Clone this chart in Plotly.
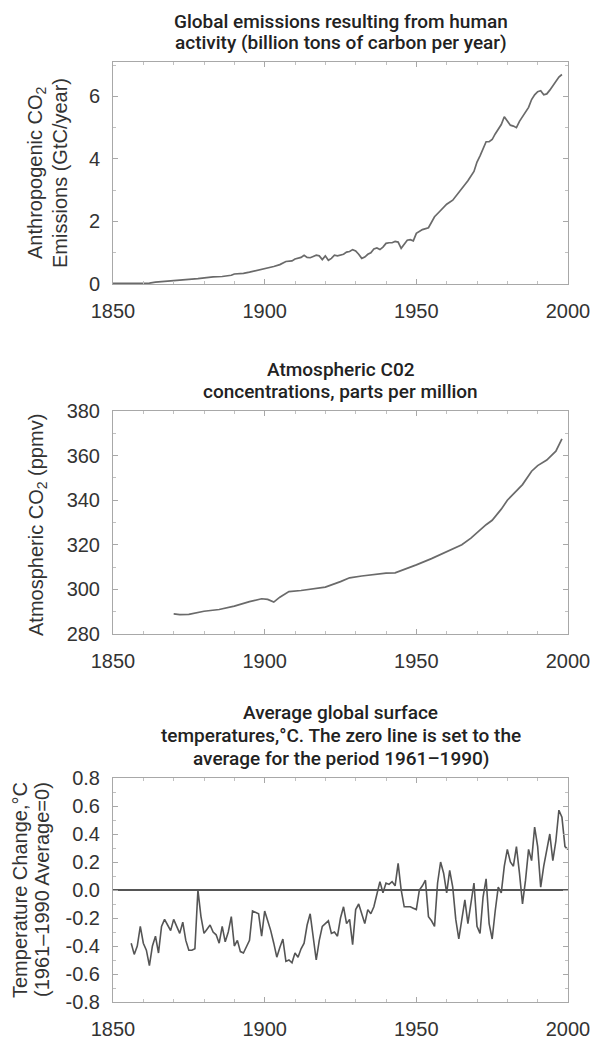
import plotly.graph_objects as go

W, H = 595, 1040

# ---------------- data ----------------
emis_years = [1850, 1855, 1860, 1862, 1864, 1866, 1868, 1870, 1872, 1875, 1878, 1880,
              1883, 1886, 1889, 1890, 1893, 1895, 1898, 1900, 1903, 1905, 1907, 1909,
              1910, 1912, 1913, 1914, 1915, 1916, 1917, 1918, 1919, 1920, 1921, 1922,
              1923, 1924, 1925, 1926, 1927, 1928, 1929, 1930, 1931, 1932, 1933, 1934,
              1935, 1936, 1937, 1938, 1939, 1940, 1941, 1942, 1943, 1944, 1945, 1946,
              1947, 1948, 1949, 1950, 1952, 1954, 1955, 1956, 1958, 1960, 1962, 1963,
              1965, 1967, 1969, 1970, 1971, 1972, 1973, 1974, 1975, 1976, 1977, 1978,
              1979, 1980, 1981, 1982, 1983, 1984, 1985, 1986, 1987, 1988, 1989, 1990,
              1991, 1992, 1993, 1994, 1995, 1996, 1997, 1998]
emis_vals = [0.02, 0.02, 0.02, 0.03, 0.06, 0.08, 0.09, 0.10, 0.14, 0.15, 0.17, 0.20,
             0.23, 0.24, 0.28, 0.32, 0.34, 0.38, 0.44, 0.50, 0.56, 0.62, 0.72, 0.74,
             0.80, 0.85, 0.92, 0.85, 0.84, 0.88, 0.92, 0.90, 0.78, 0.90, 0.76, 0.82,
             0.92, 0.90, 0.93, 0.95, 1.02, 1.04, 1.10, 1.06, 0.95, 0.82, 0.86, 0.95,
             1.00, 1.12, 1.15, 1.10, 1.18, 1.30, 1.32, 1.32, 1.36, 1.34, 1.14, 1.28,
             1.40, 1.42, 1.38, 1.62, 1.74, 1.80, 2.00, 2.15, 2.35, 2.55, 2.68, 2.80,
             3.05, 3.30, 3.60, 3.90, 4.10, 4.30, 4.55, 4.55, 4.62, 4.80, 4.95, 5.10,
             5.35, 5.22, 5.08, 5.05, 5.00, 5.20, 5.35, 5.50, 5.65, 5.90, 6.05, 6.15,
             6.18, 6.05, 6.08, 6.20, 6.35, 6.50, 6.62, 6.70]

co2_years = [1870, 1872, 1875, 1880, 1885, 1890, 1895, 1899, 1901, 1903, 1905, 1908,
             1912, 1916, 1920, 1925, 1928, 1932, 1937, 1940, 1943, 1946, 1950, 1955,
             1960, 1963, 1965, 1968, 1970, 1973, 1975, 1978, 1980, 1983, 1985, 1988,
             1990, 1993, 1996, 1998]
co2_vals = [289.0, 288.7, 288.8, 290.2, 291.0, 292.5, 294.5, 295.8, 295.5, 294.3, 296.5, 299.0,
            299.5, 300.3, 301.0, 303.5, 305.2, 306.0, 307.0, 307.3, 307.4, 308.8, 311.0, 313.8,
            317.0, 319.0, 320.0, 323.0, 325.5, 329.0, 331.0, 336.0, 340.0, 344.0, 347.0, 353.0,
            355.5, 358.0, 362.0, 367.5]

temp_years = list(range(1856, 2001))
temp_vals = [
    -0.38, -0.46, -0.40, -0.26, -0.38, -0.43, -0.54, -0.40, -0.33, -0.45,   # 1856-1865
    -0.26, -0.21, -0.25, -0.29, -0.21, -0.26, -0.31, -0.23, -0.36, -0.43,   # 1866-1875
    -0.43, -0.42, 0.00, -0.19, -0.31, -0.28, -0.25, -0.30, -0.32, -0.38,    # 1876-1885
    -0.26, -0.37, -0.30, -0.19, -0.40, -0.36, -0.44, -0.45, -0.40, -0.36,   # 1886-1895
    -0.15, -0.16, -0.17, -0.33, -0.15, -0.22, -0.29, -0.38, -0.48, -0.41,   # 1896-1905
    -0.35, -0.51, -0.50, -0.52, -0.45, -0.48, -0.42, -0.38, -0.25, -0.17,   # 1906-1915
    -0.33, -0.50, -0.36, -0.26, -0.24, -0.22, -0.31, -0.30, -0.33, -0.20,   # 1916-1925
    -0.12, -0.24, -0.21, -0.39, -0.14, -0.10, -0.17, -0.24, -0.14, -0.17,   # 1926-1935
    -0.12, -0.02, 0.06, -0.02, 0.05, 0.04, 0.06, 0.03, 0.19, 0.00,          # 1936-1945
    -0.12, -0.12, -0.12, -0.13, -0.14, 0.00, 0.03, 0.07, -0.19, -0.22,      # 1946-1955
    -0.26, 0.05, 0.20, 0.12, -0.02, 0.14, 0.02, -0.21, -0.35, -0.21,        # 1956-1965
    -0.07, -0.24, -0.10, 0.05, -0.26, -0.31, -0.05, 0.08, -0.24, -0.35,     # 1966-1975
    -0.15, 0.02, -0.02, 0.17, 0.29, 0.20, 0.17, 0.31, 0.12, -0.10,          # 1976-1985
    0.07, 0.29, 0.21, 0.45, 0.31, 0.02, 0.17, 0.29, 0.40, 0.21,             # 1986-1995
    0.35, 0.57, 0.52, 0.31, 0.29,                                           # 1996-2000
]

x_ticks = [1850, 1900, 1950, 2000]
y1_ticks = [0, 2, 4, 6]
y2_ticks = [280, 300, 320, 340, 360, 380]
y3_ticks = [-0.8, -0.6, -0.4, -0.2, 0.0, 0.2, 0.4, 0.6, 0.8]
y3_labels = ["-0.8", "-0.6", "-0.4", "-0.2", "0.0", "0.2", "0.4", "0.6", "0.8"]

# ---------------- layout helpers ----------------
X0, X1 = 113, 568
PANELS = [(62, 284), (411, 634), (778, 1002)]
TICKFONT = dict(family="Liberation Sans, Arial, sans-serif", size=20, color="#333333")
TITLEFONT = dict(family="Roboto, sans-serif", size=19, color="#222222", weight=500)
FRAME = "#a8a8a8"


def ydom(top, bot):
    return [1 - bot / H, 1 - top / H]


fig = go.Figure()
line_style = dict(color="#6a6a6a", width=1.7)
fig.add_trace(go.Scatter(x=emis_years, y=emis_vals, mode="lines", line=line_style,
                         xaxis="x", yaxis="y", showlegend=False))
fig.add_trace(go.Scatter(x=co2_years, y=co2_vals, mode="lines", line=line_style,
                         xaxis="x2", yaxis="y2", showlegend=False))
fig.add_trace(go.Scatter(x=temp_years, y=temp_vals, mode="lines",
                         line=dict(color="#555555", width=1.6),
                         xaxis="x3", yaxis="y3", showlegend=False))

common_x = dict(domain=[X0 / W, X1 / W], range=[1850, 2000], tickvals=x_ticks,
                ticks="inside", ticklen=5, tickcolor=FRAME, showline=True,
                linecolor=FRAME, linewidth=1, mirror="ticks", showgrid=False,
                zeroline=False, tickfont=TICKFONT, ticklabelstandoff=9, automargin=False,
                minor=dict(dtick=10, ticks="inside", ticklen=3, tickcolor="#c0c0c0"))
common_y = dict(ticks="inside", ticklen=5, tickcolor=FRAME, showline=True,
                linecolor=FRAME, linewidth=1, mirror="ticks", showgrid=False,
                tickfont=TICKFONT, ticklabelstandoff=8, automargin=False)

layout = dict(
    width=W, height=H, margin=dict(l=0, r=0, t=0, b=0, pad=0), autosize=False,
    paper_bgcolor="white", plot_bgcolor="white",
    xaxis=dict(anchor="y", **common_x),
    xaxis2=dict(anchor="y2", **common_x),
    xaxis3=dict(anchor="y3", **common_x),
    yaxis=dict(anchor="x", domain=ydom(*PANELS[0]), range=[0, 7.1], tickvals=y1_ticks,
               zeroline=False, minor=dict(dtick=1, ticks="inside", ticklen=3, tickcolor="#c0c0c0"),
               **common_y),
    yaxis2=dict(anchor="x2", domain=ydom(*PANELS[1]), range=[280, 380], tickvals=y2_ticks,
                zeroline=False, minor=dict(dtick=10, ticks="inside", ticklen=3, tickcolor="#c0c0c0"),
                **common_y),
    yaxis3=dict(anchor="x3", domain=ydom(*PANELS[2]), range=[-0.8, 0.8], tickvals=y3_ticks,
                ticktext=y3_labels, zeroline=True, zerolinecolor="#555555", zerolinewidth=1.6,
                minor=dict(dtick=0.1, ticks="inside", ticklen=3, tickcolor="#c0c0c0"),
                **common_y),
)
fig.update_layout(**layout)

xc = (X0 + X1) / 2 / W
titles = [
    ("Global emissions resulting from human", 21),
    ("activity (billion tons of carbon per year)", 43),
    ("Atmospheric C02", 369),
    ("concentrations, parts per million", 391),
    ("Average global surface", 712),
    ("temperatures,\u00b0C. The zero line is set to the", 735),
    ("average for the period 1961\u20131990)", 758),
]
for txt, ypx in titles:
    fig.add_annotation(text=txt, x=xc, y=1 - ypx / H, xref="paper", yref="paper",
                       xanchor="center", yanchor="middle", showarrow=False, font=TITLEFONT)

ylabels = [
    ("Anthropogenic CO<sub>2</sub>", 37, 173),
    ("Emissions (GtC/year)", 60, 173),
    ("Atmospheric CO<sub>2</sub> (ppmv)", 37, 525),
    ("Temperature Change,\u00b0C", 20, 890),
    ("(1961\u20131990 Average=0)", 42, 890),
]
for txt, xpx, ypx in ylabels:
    fig.add_annotation(text=txt, x=xpx / W, y=1 - ypx / H, xref="paper", yref="paper",
                       xanchor="center", yanchor="middle", textangle=-90, showarrow=False,
                       font=dict(family="Liberation Sans, Arial, sans-serif", size=20,
                                 color="#333333"))

fig.write_html("out.html", config={"displayModeBar": False},
               post_script="document.body.style.margin='0';document.body.style.padding='0';")
